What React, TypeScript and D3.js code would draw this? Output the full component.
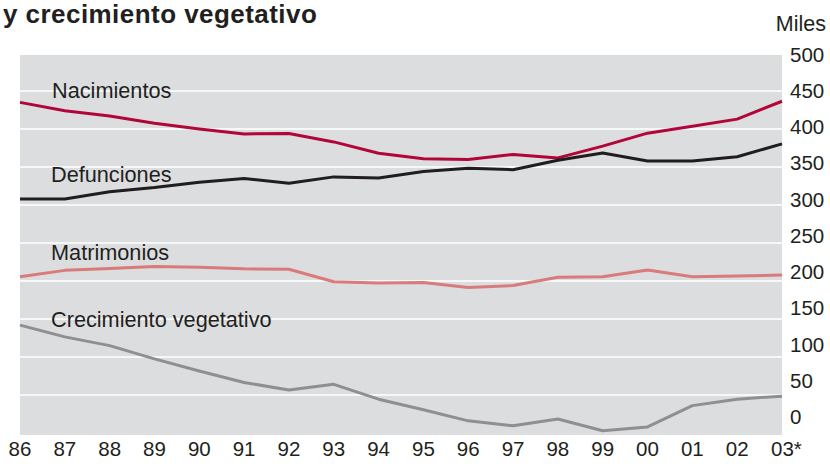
import * as React from 'react';
import * as d3 from 'd3';

const years: string[] = ['86', '87', '88', '89', '90', '91', '92', '93', '94', '95', '96', '97', '98', '99', '00', '01', '02', '03*'];

// miles
const nacimientos: number[] = [435, 424, 417, 407.5, 400, 393.5, 394, 383, 368, 361, 360, 366.5, 362, 377.5, 394.5, 403.5, 413, 436.5];
const defunciones: number[] = [308, 308, 317.5, 323, 330, 335, 328.5, 337, 335.5, 344, 348.5, 346.5, 359, 368.5, 358, 358, 363.5, 380.5];
const matrimonios: number[] = [205.5, 214, 216.5, 219, 218, 216, 215.5, 199, 197.5, 198, 191.5, 194, 205, 205.5, 214.5, 205.5, 206.5, 208];
const crecimiento: number[] = [142, 126.5, 115, 97.5, 81.5, 66.5, 56.5, 64, 44.5, 30.5, 16, 9.5, 18.5, 3, 8, 36, 44.5, 48.5];

const yTicks: number[] = [0, 50, 100, 150, 200, 250, 300, 350, 400, 450, 500];

const series: any[] = [
	{ name: 'Nacimientos', values: nacimientos, color: '#b1063a', lx: 52, ly: 98 },
	{ name: 'Defunciones', values: defunciones, color: '#1f1d1e', lx: 51, ly: 182 },
	{ name: 'Matrimonios', values: matrimonios, color: '#d97b7a', lx: 51, ly: 260 },
	{ name: 'Crecimiento vegetativo', values: crecimiento, color: '#8f8f90', lx: 51, ly: 327 }
];

const font = '"Liberation Sans", Arial, sans-serif';
const ink = '#231f20';

class App extends React.Component {
	private svgRef = React.createRef<SVGSVGElement>();

	public render() {
		return (
			<svg
				ref={this.svgRef}
				width={830}
				height={466}
				viewBox="0 0 830 466"
				style={{ position: 'absolute', left: 0, top: 0, background: '#fff' }}
			>
				<g className="chart" />
			</svg>
		);
	}

	public componentDidMount() {
		const plot = { left: 20, right: 782, top: 55, bottom: 435 };

		const x = d3.scalePoint().domain(years).range([plot.left, plot.right]);
		const y = d3.scaleLinear().domain([0, 500]).range([433, 53]);
		// the printed tick labels sit on a slightly tighter scale than the grid
		const yLabel = d3.scaleLinear().domain([0, 500]).range([424, 61.5]);

		const g = d3.select(this.svgRef.current).select('g.chart');
		g.selectAll('*').remove();

		g.append('rect')
			.attr('x', plot.left)
			.attr('y', plot.top)
			.attr('width', plot.right - plot.left)
			.attr('height', plot.bottom - plot.top)
			.attr('fill', '#dcdddf');

		// white grid lines
		g.append('g')
			.selectAll('line')
			.data(yTicks.filter((d) => d > 0 && d < 500))
			.enter()
			.append('line')
			.attr('x1', plot.left)
			.attr('x2', plot.right)
			.attr('y1', (d: number) => y(d))
			.attr('y2', (d: number) => y(d))
			.attr('stroke', '#fff')
			.attr('stroke-width', 1.5);

		const line = d3
			.line<number>()
			.x((d: number, i: number) => x(years[i]) as number)
			.y((d: number) => y(d));

		series.forEach((s: any) => {
			g.append('path')
				.datum(s.values)
				.attr('d', line)
				.attr('fill', 'none')
				.attr('stroke', s.color)
				.attr('stroke-width', 3)
				.attr('stroke-linejoin', 'round');

			g.append('text')
				.attr('x', s.lx)
				.attr('y', s.ly)
				.attr('font-family', font)
				.attr('font-size', 21.7)
				.attr('fill', ink)
				.text(s.name);
		});

		// right axis labels
		g.append('g')
			.selectAll('text')
			.data(yTicks)
			.enter()
			.append('text')
			.attr('x', 790)
			.attr('y', (d: number) => yLabel(d))
			.attr('font-family', font)
			.attr('font-size', 20.5)
			.attr('fill', ink)
			.text((d: number) => d);

		g.append('text')
			.attr('x', 826)
			.attr('y', 31)
			.attr('text-anchor', 'end')
			.attr('font-family', font)
			.attr('font-size', 21.5)
			.attr('fill', ink)
			.text('Miles');

		// bottom axis labels
		g.append('g')
			.selectAll('text')
			.data(years)
			.enter()
			.append('text')
			.attr('x', (d: string) => (x(d) as number) + (d.endsWith('*') ? -11 : 0))
			.attr('y', 456)
			.attr('text-anchor', (d: string) => (d.endsWith('*') ? 'start' : 'middle'))
			.attr('font-family', font)
			.attr('font-size', 20.5)
			.attr('fill', ink)
			.text((d: string) => d);

		g.append('text')
			.attr('x', 3)
			.attr('y', 23)
			.attr('font-family', font)
			.attr('font-size', 26)
			.attr('font-weight', 'bold')
			.attr('letter-spacing', 0.45)
			.attr('fill', ink)
			.text('y crecimiento vegetativo');
	}
}

export default App;
